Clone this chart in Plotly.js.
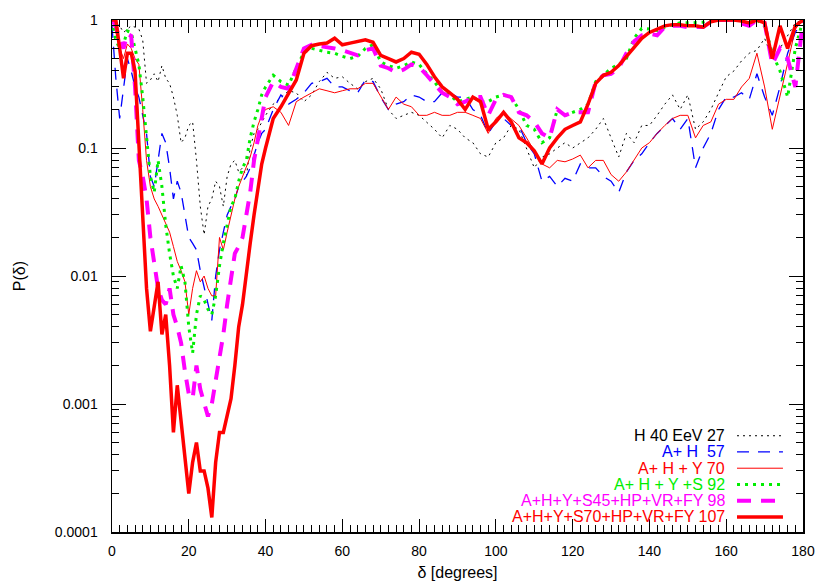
<!DOCTYPE html>
<html>
<head>
<meta charset="utf-8">
<script src="https://cdn.plot.ly/plotly-3.0.1.min.js"></script>
<style>
html, body { margin: 0; padding: 0; background: #fff; }
#chart { width: 830px; height: 581px; }
</style>
</head>
<body>
<div id="chart"></div>
<script>
// Angle delta in degrees (1 deg steps up to 40, then 2 deg steps)
var delta = [0,1,2,3,4,5,6,7,8,9,10,11,12,13,14,15,16,17,18,19,20,21,22,23,24,25,26,27,28,29,30,31,32,33,34,35,36,37,38,39,40,
    42,44,46,48,50,52,54,56,58,60,62,64,66,68,70,72,74,76,78,80,82,84,86,88,90,92,94,96,98,100,
    102,104,106,108,110,112,114,116,118,120,122,124,126,128,130,132,134,136,138,140,
    142,144,146,148,150,152,154,156,158,160,162,164,166,168,170,172,174,176,178,180];

// P(delta) for each catalogue
var h40 = [1,0.95,0.9,0.8,0.85,0.9,0.88,0.85,0.7,0.32, 0.34,0.38,0.33,0.44,0.35,0.32,0.25,0.18,0.11,0.12,
    0.15,0.16,0.08,0.035,0.021,0.035,0.04,0.055,0.05,0.035, 0.06,0.075,0.08,0.065,0.07,0.06,0.1,0.13,0.14,0.16, 0.18,
    0.22,0.25,0.28,0.27,0.23,0.26,0.33,0.39,0.35,0.36, 0.32,0.29,0.33,0.35,0.29,0.2,0.17,0.18,0.19,0.18,
    0.16,0.14,0.12,0.15,0.14,0.12,0.11,0.09,0.085,0.11, 0.12,0.15,0.14,0.1,0.07,0.085,0.09,0.1,0.11,0.1,
    0.11,0.12,0.14,0.17,0.12,0.085,0.13,0.11,0.15,0.15, 0.18,0.22,0.26,0.2,0.26,0.14,0.16,0.2,0.27,0.36,
    0.4,0.48,0.55,0.58,0.72,0.5,0.6,0.75,0.95,1];
var ah = [0.9,0.35,0.17,0.3,0.5,0.4,0.3,0.25,0.18,0.13, 0.06,0.05,0.08,0.13,0.11,0.07,0.04,0.055,0.045,0.03,
    0.02,0.018,0.016,0.011,0.008,0.006,0.0045,0.01,0.016,0.022, 0.03,0.035,0.04,0.05,0.055,0.06,0.07,0.09,0.11,0.13, 0.14,
    0.2,0.26,0.22,0.24,0.27,0.32,0.33,0.35,0.3,0.3, 0.28,0.27,0.34,0.33,0.25,0.2,0.22,0.23,0.26,0.25,
    0.23,0.23,0.27,0.27,0.25,0.25,0.2,0.18,0.13,0.16, 0.17,0.15,0.15,0.11,0.09,0.055,0.06,0.05,0.058,0.055,
    0.075,0.07,0.07,0.06,0.055,0.045,0.065,0.08,0.09,0.11, 0.13,0.15,0.17,0.14,0.17,0.07,0.1,0.13,0.2,0.25,
    0.25,0.27,0.24,0.38,0.25,0.18,0.3,0.55,0.8,1];
var ahy = [1,0.8,0.6,0.5,0.65,0.6,0.5,0.45,0.2,0.08, 0.05,0.04,0.035,0.03,0.025,0.022,0.017,0.013,0.011,0.009,
    0.005,0.008,0.011,0.009,0.01,0.008,0.007,0.007,0.02,0.016, 0.022,0.03,0.04,0.05,0.06,0.07,0.085,0.11,0.15,0.18, 0.2,
    0.21,0.19,0.15,0.23,0.25,0.27,0.29,0.28,0.27,0.28, 0.29,0.29,0.32,0.32,0.25,0.2,0.25,0.22,0.21,0.18,
    0.18,0.19,0.18,0.18,0.19,0.19,0.18,0.17,0.13,0.17, 0.19,0.17,0.15,0.12,0.095,0.075,0.07,0.08,0.078,0.082,
    0.088,0.07,0.08,0.08,0.062,0.055,0.065,0.08,0.1,0.11, 0.13,0.15,0.17,0.18,0.18,0.12,0.15,0.16,0.22,0.24,
    0.24,0.3,0.35,0.55,0.3,0.14,0.25,0.46,0.85,1];
var ahys = [1,0.7,0.6,0.65,0.82,0.8,0.6,0.45,0.25,0.12, 0.06,0.045,0.08,0.05,0.025,0.015,0.01,0.008,0.012,0.009,
    0.004,0.0025,0.005,0.007,0.0065,0.0055,0.005,0.007,0.012,0.018, 0.025,0.035,0.04,0.055,0.07,0.08,0.12,0.16,0.2,0.26, 0.3,
    0.37,0.33,0.31,0.42,0.56,0.6,0.58,0.56,0.55,0.52, 0.5,0.52,0.6,0.64,0.47,0.44,0.42,0.44,0.47,0.45,
    0.38,0.33,0.27,0.26,0.23,0.24,0.25,0.23,0.23,0.25, 0.26,0.25,0.2,0.15,0.14,0.11,0.12,0.2,0.18,0.19,
    0.2,0.22,0.33,0.37,0.42,0.45,0.5,0.72,0.86,0.85, 0.83,0.88,0.92,0.95,0.95,0.95,0.96,1,1,1,
    1,0.98,1,1,0.9,0.55,0.4,0.25,0.6,1];
var s45 = [1,0.9,0.7,0.6,0.78,0.75,0.3,0.08,0.06,0.04, 0.02,0.012,0.008,0.0065,0.006,0.008,0.005,0.004,0.003,0.0018,
    0.0012,0.0011,0.002,0.0013,0.001,0.0008,0.001,0.0015,0.0022,0.0035, 0.006,0.009,0.015,0.017,0.02,0.03,0.045,0.08,0.12,0.17, 0.25,
    0.33,0.3,0.29,0.42,0.6,0.64,0.63,0.62,0.6,0.58, 0.55,0.53,0.58,0.6,0.44,0.42,0.39,0.41,0.45,0.43,
    0.37,0.32,0.27,0.25,0.22,0.23,0.25,0.25,0.18,0.24, 0.26,0.25,0.19,0.18,0.16,0.13,0.12,0.2,0.18,0.19,
    0.19,0.19,0.33,0.37,0.38,0.42,0.55,0.68,0.76,0.78, 0.76,0.88,0.9,0.9,0.88,0.88,0.88,0.97,1,1,
    1,0.94,0.9,1,0.95,0.45,0.6,0.5,0.3,1];
var s70 = [1,1,0.6,0.35,0.55,0.55,0.4,0.1,0.03,0.008, 0.0037,0.006,0.009,0.0035,0.005,0.002,0.0006,0.0014,0.0007,0.0004,
    0.0002,0.00035,0.0005,0.0003,0.0003,0.00022,0.00013,0.00035,0.0006,0.0006, 0.0008,0.0011,0.002,0.004,0.006,0.011,0.018,0.03,0.05,0.075, 0.1,
    0.17,0.21,0.27,0.34,0.55,0.63,0.65,0.66,0.72,0.64, 0.66,0.68,0.7,0.67,0.53,0.5,0.47,0.5,0.56,0.54,
    0.45,0.36,0.3,0.27,0.24,0.2,0.25,0.23,0.14,0.16, 0.19,0.16,0.12,0.11,0.095,0.075,0.1,0.12,0.14,0.15,
    0.16,0.22,0.32,0.37,0.39,0.44,0.52,0.6,0.72,0.8, 0.85,0.9,0.92,0.92,0.9,0.9,0.88,0.97,1,1,
    1,0.98,0.95,1,0.95,0.5,0.9,0.6,0.9,1];

var series = [h40, ah, ahy, ahys, s45, s70];
var names  = ["H 40 EeV 27", "A+ H  57", "A+ H + Y 70", "A+ H + Y +S 92",
              "A+H+Y+S45+HP+VR+FY 98", "A+H+Y+S70+HP+VR+FY 107"];
var colors = ["#000000", "#0000ff", "#ff0000", "#00ee00", "#ff00ff", "#ff0000"];
var widths = [1, 1.3, 1, 3, 4, 3.5];
var dashes = ["2px,4px", "12px,9px", "solid", "3px,5px", "14px,10px", "solid"];

var yTickVals = [0.0001, 0.001, 0.01, 0.1, 1];
var yTickText = ["0.0001", "0.001", "0.01", "0.1", "1"];

var font = "Liberation Sans, Arial, sans-serif";

// minor ticks 2..9 in every decade
var minorY = [];
for (var e = -4; e < 0; e++) {
    for (var k = 2; k <= 9; k++) {
        minorY.push(k * Math.pow(10, e));
    }
}

var data = [];
for (var i = 0; i < series.length; i++) {
    data.push({
        x: delta,
        y: series[i],
        type: 'scatter',
        mode: 'lines',
        name: names[i],
        line: {color: colors[i], width: widths[i], dash: dashes[i]},
        showlegend: false
    });
}

// Hand made legend: right aligned text, sample line to the right
var annotations = [];
var shapes = [];
var row0 = 0.188, rowStep = 0.0317;
for (var i = 0; i < names.length; i++) {
    var yy = row0 - i * rowStep;
    annotations.push({
        xref: 'paper', yref: 'paper', x: 0.8896, y: yy,
        xanchor: 'right', yanchor: 'middle', showarrow: false,
        text: names[i], font: {family: font, size: 16, color: colors[i]}
    });
    shapes.push({
        type: 'line', xref: 'paper', yref: 'paper',
        x0: 0.9045, x1: 0.971, y0: yy, y1: yy,
        line: {color: colors[i], width: widths[i], dash: dashes[i]}
    });
}

var layout = {
    width: 830,
    height: 581,
    margin: {l: 112, r: 27, t: 20, b: 49},
    paper_bgcolor: "#fff",
    plot_bgcolor: "#fff",
    font: {family: font, size: 14, color: "#000"},
    showlegend: false,
    xaxis: {
        range: [0, 180],
        dtick: 20,
        tick0: 0,
        ticks: 'inside',
        ticklen: 13,
        tickwidth: 1,
        tickcolor: '#000',
        showline: true,
        linewidth: 1.5,
        linecolor: '#000',
        mirror: 'allticks',
        showgrid: false,
        zeroline: false,
        ticklabelstandoff: 6,
        minor: {ticks: 'inside', dtick: 2, ticklen: 7, tickwidth: 1, tickcolor: '#000'},
        title: {text: "δ [degrees]", font: {family: font, size: 16}, standoff: 11}
    },
    yaxis: {
        type: 'log',
        range: [-4, 0],
        tickmode: 'array',
        tickvals: yTickVals,
        ticktext: yTickText,
        ticks: 'inside',
        ticklen: 14,
        tickwidth: 1,
        tickcolor: '#000',
        showline: true,
        linewidth: 1.5,
        linecolor: '#000',
        mirror: 'allticks',
        showgrid: false,
        zeroline: false,
        ticklabelstandoff: 10,
        minor: {ticks: 'inside', tickmode: 'array', tickvals: minorY, ticklen: 7, tickwidth: 1, tickcolor: '#000'},
        title: {text: "P(δ)", font: {family: font, size: 16}, standoff: 25}
    },
    annotations: annotations,
    shapes: shapes
};

Plotly.newPlot("chart", data, layout, {displayModeBar: false, staticPlot: true});
</script>
</body>
</html>
